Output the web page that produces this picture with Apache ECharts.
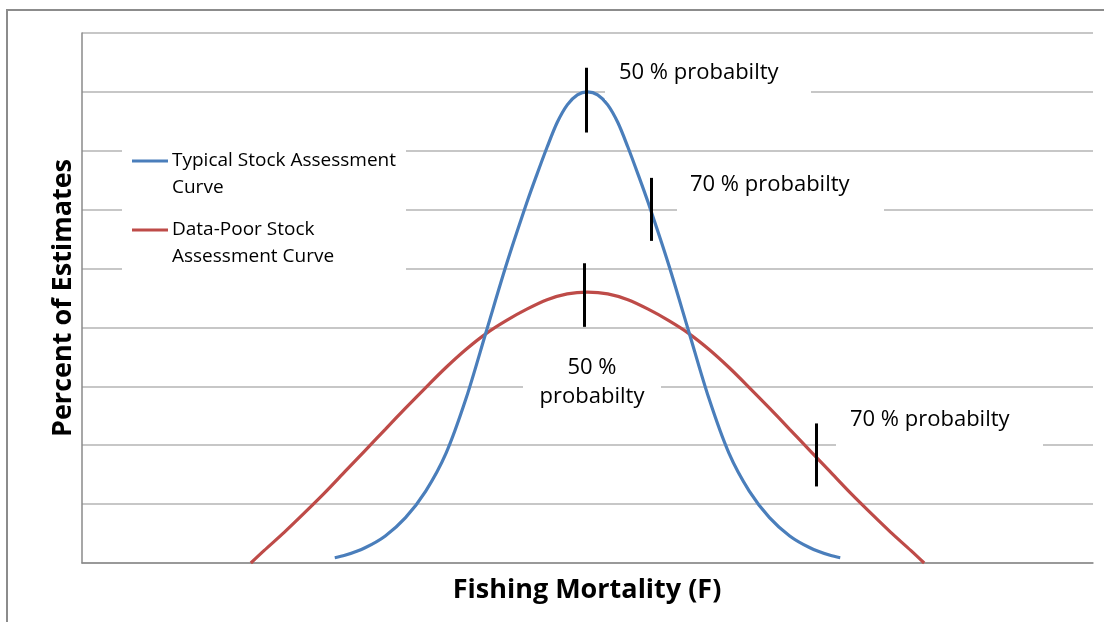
<!DOCTYPE html>
<html>
<head>
<meta charset="utf-8">
<script src="https://cdn.jsdelivr.net/npm/echarts@6/dist/echarts.min.js"></script>
<style>html,body{margin:0;padding:0;background:#fff;}#c{width:1104px;height:622px;}</style>
</head>
<body>
<div id="c"></div>
<script>
// Typical stock assessment curve (x in % of axis width, y in gridline units)
const blueX = [25, 26, 28, 30, 32, 34, 36, 38, 40, 42, 44, 45, 46, 47, 48, 49, 50, 51, 52, 53, 54, 55, 56, 58, 60, 62, 64, 66, 68, 70, 72, 74, 75];
const blueY = [0.09, 0.13, 0.26, 0.46, 0.77, 1.22, 1.86, 2.8, 3.94, 5.08, 6.12, 6.6, 7.06, 7.48, 7.78, 7.95, 8.0, 7.95, 7.78, 7.48, 7.06, 6.6, 6.12, 5.08, 3.94, 2.8, 1.86, 1.22, 0.77, 0.46, 0.26, 0.13, 0.09];
// Data-poor stock assessment curve
const redX = [16.7, 18, 20, 22, 24, 26, 28, 30, 32, 34, 36, 38, 40, 42, 44, 46, 48, 50, 52, 54, 56, 58, 60, 62, 64, 66, 68, 70, 72, 74, 76, 78, 80, 82, 83.3];
const redY = [0.0, 0.21, 0.52, 0.85, 1.19, 1.55, 1.91, 2.27, 2.63, 2.98, 3.32, 3.63, 3.9, 4.12, 4.31, 4.47, 4.57, 4.6, 4.57, 4.47, 4.31, 4.12, 3.9, 3.63, 3.32, 2.98, 2.63, 2.27, 1.91, 1.55, 1.19, 0.85, 0.52, 0.21, 0.0];
// Probability tick markers: x, yTop, yBottom
const markX = [49.9, 56.3, 49.7, 72.6];
const markTop = [8.41, 6.54, 5.09, 2.37];
const markBottom = [7.31, 5.47, 4.01, 1.30];
// Texts
const seriesNames = ['Typical Stock Assessment\nCurve', 'Data-Poor Stock\nAssessment Curve'];
const probLabels = ['50 % probabilty', '70 % probabilty', '50 %\nprobabilty', '70 % probabilty'];
const xTitle = 'Fishing Mortality (F)';
const yTitle = 'Percent of Estimates';

const FONT = '"Open Sans", "Liberation Sans", sans-serif';
const BLUE = '#4a7ebb';
const RED = '#be4b48';

const blueData = blueX.map((x, i) => [x, blueY[i]]);
const redData = redX.map((x, i) => [x, redY[i]]);
const markData = markX.map((x, i) => [{coord: [x, markTop[i]]}, {coord: [x, markBottom[i]]}]);

const chart = echarts.init(document.getElementById('c'), null, {renderer: 'canvas'});

function box(x, y, w, h) {
  return {type: 'rect', z: 10, silent: true, shape: {x: x, y: y, width: w, height: h}, style: {fill: '#fff'}};
}
function txt(x, y, text, opts) {
  return Object.assign({type: 'text', z: 11, silent: true, x: x, y: y,
    style: Object.assign({text: text, fill: '#000', font: '22px ' + FONT, lineHeight: 29,
      textAlign: 'left', textVerticalAlign: 'middle'}, opts || {})});
}

const option = {
  animation: false,
  backgroundColor: '#fff',
  grid: {left: 82, right: 11, top: 33, bottom: 59, containLabel: false},
  xAxis: {
    type: 'value', min: 0, max: 100,
    axisLine: {show: true, lineStyle: {color: '#8a8a8a', width: 1.5}},
    axisTick: {show: false}, axisLabel: {show: false}, splitLine: {show: false}
  },
  yAxis: {
    type: 'value', min: 0, max: 9, interval: 1,
    axisLine: {show: true, lineStyle: {color: '#8a8a8a', width: 1.5}},
    axisTick: {show: false}, axisLabel: {show: false},
    splitLine: {show: true, lineStyle: {color: '#b4b4b4', width: 1.5}}
  },
  series: [
    {
      name: seriesNames[0], type: 'line', data: blueData, smooth: 0.3, showSymbol: false,
      lineStyle: {color: BLUE, width: 3.2}, itemStyle: {color: BLUE}, z: 3,
      markLine: {
        silent: true, symbol: ['none', 'none'], animation: false,
        label: {show: false},
        lineStyle: {color: '#000', width: 3, type: 'solid'},
        data: markData
      }
    },
    {
      name: seriesNames[1], type: 'line', data: redData, smooth: 0.3, showSymbol: false,
      lineStyle: {color: RED, width: 3.2}, itemStyle: {color: RED}, z: 2
    }
  ],
  graphic: {
    elements: [
      // outer chart border
      {type: 'rect', z: 1, silent: true, shape: {x: 7, y: 10, width: 1110, height: 700},
        style: {fill: 'none', stroke: '#8c8c8c', lineWidth: 2}},
      // legend
      box(122, 140, 284, 150),
      {type: 'line', z: 11, silent: true, shape: {x1: 132, y1: 161, x2: 168, y2: 161}, style: {stroke: BLUE, lineWidth: 3}},
      {type: 'line', z: 11, silent: true, shape: {x1: 132, y1: 230, x2: 168, y2: 230}, style: {stroke: RED, lineWidth: 3}},
      txt(172, 147.5, seriesNames[0], {textVerticalAlign: 'top', lineHeight: 27, font: '19px ' + FONT}),
      txt(172, 216.5, seriesNames[1], {textVerticalAlign: 'top', lineHeight: 27, font: '19px ' + FONT}),
      // probability labels
      box(605, 52, 206, 48),
      txt(619, 73, probLabels[0]),
      box(677, 165, 207, 57),
      txt(690, 185, probLabels[1]),
      box(523, 340, 138, 88),
      txt(592, 353.5, probLabels[2], {textAlign: 'center', textVerticalAlign: 'top', lineHeight: 29}),
      box(836, 400, 207, 55),
      txt(850, 420, probLabels[3]),
      // axis titles
      txt(587, 590, xTitle, {textAlign: 'center', font: 'bold 27px ' + FONT}),
      {type: 'text', z: 11, silent: true, x: 63, y: 298, rotation: Math.PI / 2,
        style: {text: yTitle, fill: '#000', font: 'bold 27px ' + FONT, textAlign: 'center', textVerticalAlign: 'middle'}}
    ]
  }
};
chart.setOption(option);
</script>
</body>
</html>
